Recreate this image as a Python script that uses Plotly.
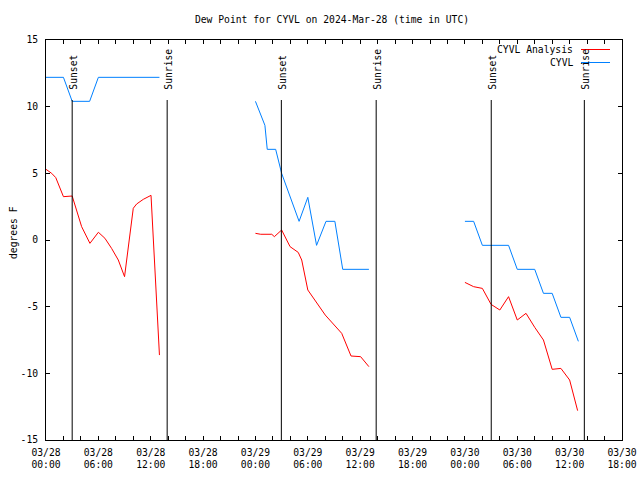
import plotly.graph_objects as go

# ---------------- data ----------------
title_text = "Dew Point for CYVL on 2024-Mar-28 (time in UTC)"
y_axis_label = "degrees F"

# Observations (CYVL) - None separates days
obs_times = [
    "2024-03-28 00:00", "2024-03-28 02:00", "2024-03-28 03:00", "2024-03-28 05:00",
    "2024-03-28 06:00", "2024-03-28 13:00",
    "2024-03-28 18:00",
    "2024-03-29 00:00", "2024-03-29 01:05", "2024-03-29 01:21", "2024-03-29 02:19",
    "2024-03-29 03:00", "2024-03-29 05:00", "2024-03-29 06:00", "2024-03-29 07:00",
    "2024-03-29 08:05", "2024-03-29 09:06", "2024-03-29 10:00", "2024-03-29 13:00",
    "2024-03-29 18:00",
    "2024-03-30 00:00", "2024-03-30 01:00", "2024-03-30 02:00", "2024-03-30 05:00",
    "2024-03-30 06:00", "2024-03-30 08:00", "2024-03-30 09:00", "2024-03-30 10:00",
    "2024-03-30 11:00", "2024-03-30 12:00", "2024-03-30 13:00",
]
obs_values = [
    12.2, 12.2, 10.4, 10.4,
    12.2, 12.2,
    None,
    10.4, 8.6, 6.8, 6.8,
    5.0, 1.4, 3.2, -0.4,
    1.4, 1.4, -2.2, -2.2,
    None,
    1.4, 1.4, -0.4, -0.4,
    -2.2, -2.2, -4.0, -4.0,
    -5.8, -5.8, -7.6,
]

# Analysis (CYVL Analysis)
ana_times = [
    "2024-03-28 00:00", "2024-03-28 00:39", "2024-03-28 01:07", "2024-03-28 02:00",
    "2024-03-28 03:00", "2024-03-28 04:05", "2024-03-28 05:02", "2024-03-28 06:00",
    "2024-03-28 06:45", "2024-03-28 07:31", "2024-03-28 08:17", "2024-03-28 09:00",
    "2024-03-28 10:00", "2024-03-28 10:23", "2024-03-28 11:09", "2024-03-28 12:02",
    "2024-03-28 13:00",
    "2024-03-28 18:00",
    "2024-03-29 00:00", "2024-03-29 00:36", "2024-03-29 01:52", "2024-03-29 02:10",
    "2024-03-29 03:00", "2024-03-29 03:58", "2024-03-29 04:54", "2024-03-29 05:18",
    "2024-03-29 06:00", "2024-03-29 06:48", "2024-03-29 08:00", "2024-03-29 09:53",
    "2024-03-29 10:57", "2024-03-29 12:03", "2024-03-29 13:00",
    "2024-03-29 18:00",
    "2024-03-30 00:00", "2024-03-30 01:00", "2024-03-30 02:00", "2024-03-30 03:00",
    "2024-03-30 04:00", "2024-03-30 05:00", "2024-03-30 06:00", "2024-03-30 07:00",
    "2024-03-30 08:00", "2024-03-30 09:00", "2024-03-30 10:00", "2024-03-30 11:00",
    "2024-03-30 12:00", "2024-03-30 12:55",
]
ana_values = [
    5.3, 5.0, 4.68, 3.25,
    3.3, 1.0, -0.25, 0.58,
    0.13, -0.63, -1.5, -2.75,
    2.38, 2.7, 3.05, 3.35,
    -8.63,
    None,
    0.5, 0.43, 0.43, 0.25,
    0.75, -0.5, -0.93, -1.5,
    -3.75, -4.5, -5.63, -7.0,
    -8.7, -8.75, -9.5,
    None,
    -3.18, -3.5, -3.63, -4.83,
    -5.25, -4.25, -6.0, -5.5,
    -6.55, -7.5, -9.7, -9.63,
    -10.5, -12.8,
]

# Sun events
sun_labels = ["Sunset", "Sunrise", "Sunset", "Sunrise", "Sunset", "Sunrise"]
sun_times = ["2024-03-28 03:00", "2024-03-28 13:53", "2024-03-29 02:58",
             "2024-03-29 13:50", "2024-03-30 03:01", "2024-03-30 13:41"]

series_names = ["CYVL Analysis", "CYVL"]
series_colors = ["#ff0000", "#0080ff"]

x_range = ["2024-03-28 00:00", "2024-03-30 18:00"]
y_ticks = [-15, -10, -5, 0, 5, 10, 15]
y_tick_labels = ["-15", "-10", "-5", "0", "5", "10", "15"]

# ---------------- figure ----------------
FONT = "DejaVu Sans Mono"
FS = 9.7

fig = go.Figure()
fig.add_trace(go.Scatter(x=ana_times, y=ana_values, mode="lines",
                         line=dict(color=series_colors[0], width=1),
                         name=series_names[0], showlegend=False, connectgaps=False))
fig.add_trace(go.Scatter(x=obs_times, y=obs_values, mode="lines",
                         line=dict(color=series_colors[1], width=1),
                         name=series_names[1], showlegend=False, connectgaps=False))

# sunrise / sunset lines and labels
for lab, t in zip(sun_labels, sun_times):
    fig.add_shape(type="line", xref="x", yref="y", x0=t, x1=t, y0=10.5, y1=-15,
                  line=dict(color="black", width=1), layer="above")
    fig.add_annotation(x=t, y=11.1, xref="x", yref="y", text=lab, showarrow=False,
                       textangle=-90, xanchor="center", yanchor="bottom", xshift=1,
                       font=dict(family=FONT, size=FS, color="black"))

# custom legend (text right-aligned, sample to the right)
PW, PH, L, B = 576.0, 400.0, 46.0, 40.0
def px_x(px):
    return (px - L) / PW
def px_y(py):
    return (480 - B - py) / PH

leg_rows = [49.5, 62.5]
for name, col, py in zip(series_names, series_colors, leg_rows):
    fig.add_annotation(x=px_x(575), y=px_y(py), xref="paper", yref="paper", text=name,
                       showarrow=False, xanchor="right", yanchor="middle",
                       font=dict(family=FONT, size=FS, color="black"))
    fig.add_shape(type="line", xref="paper", yref="paper", x0=px_x(581), x1=px_x(610),
                  y0=px_y(py), y1=px_y(py), line=dict(color=col, width=1))

# y axis title
fig.add_annotation(x=px_x(13), y=px_y(233), xref="paper", yref="paper", text=y_axis_label,
                   showarrow=False, textangle=-90, xanchor="center", yanchor="middle",
                   font=dict(family=FONT, size=FS, color="black"))

axis_common = dict(showline=True, linecolor="black", linewidth=1, mirror="ticks",
                   ticks="inside", ticklen=4, tickcolor="black", tickwidth=1,
                   showgrid=False, zeroline=False, automargin=False,
                   tickfont=dict(family=FONT, size=FS, color="black"))

fig.update_layout(
    width=640, height=480,
    margin=dict(l=46, r=18, t=40, b=40, autoexpand=False),
    paper_bgcolor="white", plot_bgcolor="white",
    title=dict(text=title_text, x=(332 - L) / PW, xref="paper", xanchor="center",
               y=1 - 20 / 480, yref="container", yanchor="middle",
               font=dict(family=FONT, size=FS, color="black")),
    xaxis=dict(type="date", range=x_range, tick0=x_range[0], dtick=6 * 3600 * 1000,
               tickformat="%m/%d<br>%H:%M", ticklabelstandoff=3,
               minor=dict(dtick=2 * 3600 * 1000, ticks="inside", ticklen=4,
                          tickcolor="black", showgrid=False),
               **axis_common),
    yaxis=dict(range=[-15, 15], tickvals=y_ticks, ticktext=y_tick_labels,
               ticklabelstandoff=5,
               **axis_common),
    showlegend=False,
)

fig.write_html("out.html", config={"displayModeBar": False},
               post_script="document.body.style.margin='0';document.body.style.overflow='hidden';")
